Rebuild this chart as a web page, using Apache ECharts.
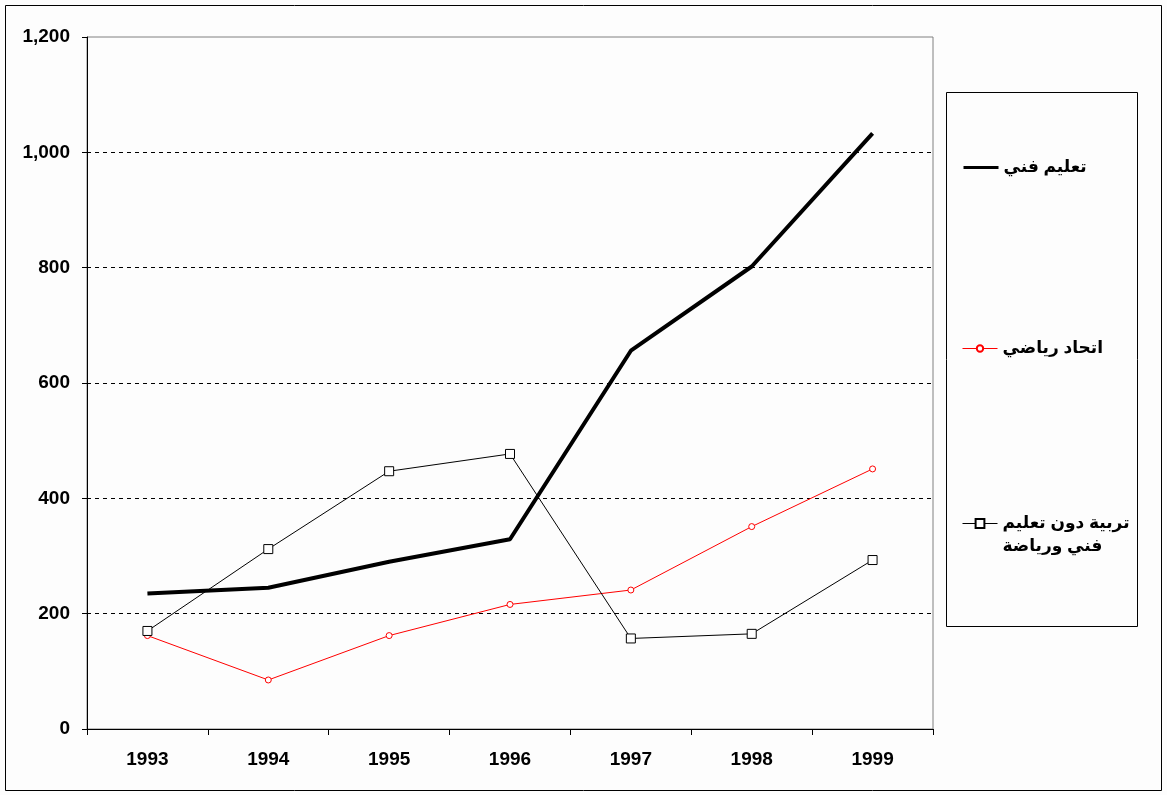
<!DOCTYPE html>
<html>
<head>
<meta charset="utf-8">
<script src="https://cdn.jsdelivr.net/npm/echarts@6/dist/echarts.min.js"></script>
<style>
html,body{margin:0;padding:0;background:#fff;}
#chart{width:1167px;height:795px;}
</style>
</head>
<body>
<div id="chart"></div>
<script>
var years = ['1993','1994','1995','1996','1997','1998','1999'];
var seriesNames = ['تعليم فني', 'اتحاد رياضي', 'تربية دون تعليم\nفني ورياضة'];
var technicalEdu = [235, 245, 290, 329, 656, 802, 1033];
var sportsUnion = [162, 85, 162, 216, 241, 351, 451];
var otherEdu = [170, 312, 447, 477, 157, 165, 293];
var yTicks = {min: 0, max: 1200, interval: 200};

var font = 'Arial, "Liberation Sans", "DejaVu Sans", sans-serif';
var chart = echarts.init(document.getElementById('chart'), null, {renderer: 'canvas'});

function legendCfg(name, top, itemHeight, lineW, extra) {
  var l = {
    data: [name],
    orient: 'vertical',
    left: 957,
    top: top,
    itemWidth: 35,
    itemHeight: itemHeight,
    itemGap: 5,
    selectedMode: false,
    lineStyle: {width: lineW},
    textStyle: {
      fontFamily: font, fontWeight: 'bold', fontSize: 17, color: '#000', lineHeight: 23
    }
  };
  if (extra) Object.assign(l, extra);
  return l;
}

var option = {
  backgroundColor: '#fdfdfd',
  animation: false,
  grid: {
    left: 87, right: 234, top: 37, bottom: 66,
    show: true, borderColor: '#808080', borderWidth: 1, backgroundColor: 'transparent'
  },
  graphic: [
    {type: 'rect', shape: {x: 5.5, y: 5.5, width: 1156, height: 785}, style: {fill: 'none', stroke: '#000', lineWidth: 1}, z: -1},
    {type: 'rect', shape: {x: 946.5, y: 92.5, width: 191, height: 534}, style: {fill: 'none', stroke: '#000', lineWidth: 1}, z: -1}
  ],
  legend: [
    legendCfg(seriesNames[0], 151, 10, 3, {itemStyle: {opacity: 0}}),
    legendCfg(seriesNames[1], 332, 8, 1),
    legendCfg(seriesNames[2], 484, 11, 1, {formatter: function (n) { return ' \n' + n; }})
  ],
  xAxis: {
    type: 'category',
    data: years,
    boundaryGap: true,
    axisLine: {lineStyle: {color: '#000', width: 1}},
    axisTick: {show: true, length: 6, interval: 0, lineStyle: {color: '#000'}},
    axisLabel: {fontFamily: font, fontWeight: 'bold', fontSize: 19, color: '#000', margin: 21, interval: 0},
    splitLine: {show: false}
  },
  yAxis: {
    type: 'value',
    min: yTicks.min, max: yTicks.max, interval: yTicks.interval,
    axisLine: {show: true, lineStyle: {color: '#000', width: 1}},
    axisTick: {show: true, length: 5, lineStyle: {color: '#000'}},
    axisLabel: {
      fontFamily: font, fontWeight: 'bold', fontSize: 19, color: '#000', margin: 17,
      formatter: function (v) { return v.toLocaleString('en-US'); }
    },
    splitLine: {show: true, showMinLine: false, showMaxLine: false, lineStyle: {color: '#000', type: [4, 4], width: 1}}
  },
  series: [
    {
      name: seriesNames[0], type: 'line', data: technicalEdu,
      symbol: 'none', lineStyle: {color: '#000', width: 4}, itemStyle: {color: '#000'}, z: 3
    },
    {
      name: seriesNames[1], type: 'line', data: sportsUnion,
      symbol: 'circle', symbolSize: 6, lineStyle: {color: '#ff0000', width: 1},
      itemStyle: {color: '#ffffff', borderColor: '#ff0000', borderWidth: 1}, z: 2
    },
    {
      name: seriesNames[2], type: 'line', data: otherEdu,
      symbol: 'rect', symbolSize: 9, lineStyle: {color: '#000', width: 1},
      itemStyle: {color: '#ffffff', borderColor: '#000', borderWidth: 1}, z: 2
    }
  ]
};
chart.setOption(option);
</script>
</body>
</html>
